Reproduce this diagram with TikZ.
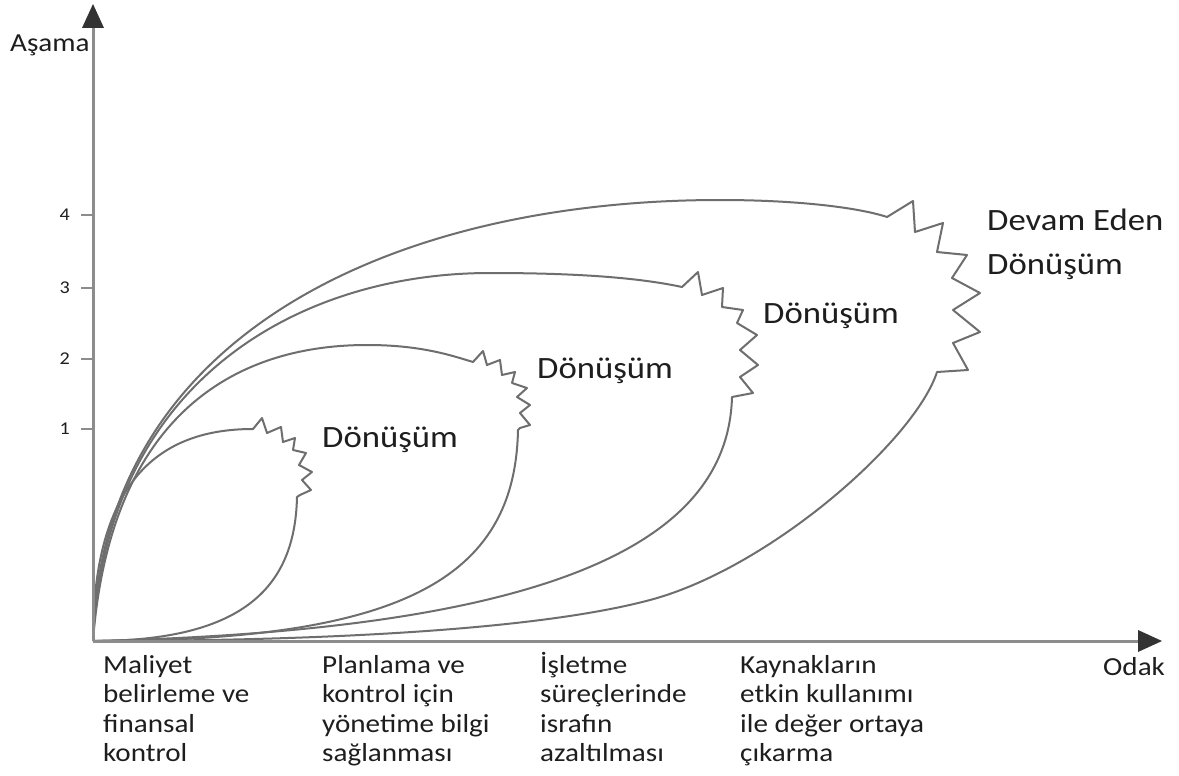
\documentclass[tikz,border=0pt]{standalone}
\usepackage{fontspec}
\setmainfont{Carlito}[FakeStretch=1.12]
\definecolor{curvegray}{HTML}{6E6E6E}
\definecolor{axisgray}{HTML}{8C8C8C}
\definecolor{txt}{HTML}{1E1E1E}
\definecolor{arrowc}{HTML}{333333}
\begin{document}
\begin{tikzpicture}[x=1pt,y=-1pt,
  curve/.style={draw=curvegray, line width=2pt, line join=round},
  axis/.style={draw=axisgray, line width=3pt},
  lbl/.style={anchor=north west, align=left, inner sep=0pt, font=\fontsize{26}{29.5}\selectfont, text=txt},
  big/.style={anchor=base west, inner sep=0pt, font=\fontsize{31}{44}\selectfont, text=txt},
  small/.style={anchor=base west, inner sep=0pt, font=\fontsize{26}{30}\selectfont, text=txt},
  num/.style={anchor=east, inner sep=0pt, font=\fontsize{18}{20}\selectfont, text=txt}]
\useasboundingbox (0,0) rectangle (1179,776);
\fill[white] (0,0) rectangle (1179,776);
\coordinate (O) at (93,641);
\coordinate (ytop) at (93,26);
\coordinate (xend) at (1140,641);
% curves
\draw[curve] (O) .. controls (93,480) and (160,429) .. (253,429)
  -- (262,418) -- (267,433) -- (281,427) -- (283,442) -- (295,438) -- (293,450)
  -- (306,453) -- (299,465) -- (312,472) -- (302,480) -- (311,490) -- (300,495)
  -- (297,497) .. controls (295,590) and (240,641) .. (O);
\draw[curve] (O) .. controls (110,420) and (230,345) .. (367,345)
  .. controls (420,345) and (450,355) .. (473,362)
  -- (483,351) -- (487,365) -- (500,360) -- (502,375) -- (515,372) -- (512,383)
  -- (527,388) -- (517,397) -- (530,405) -- (520,413) -- (530,425) -- (520,428)
  -- (518,430) .. controls (515,580) and (400,641) .. (O);
\draw[curve] (O) .. controls (105,380) and (300,273) .. (490,273)
  .. controls (580,273) and (640,278) .. (682,287)
  -- (698,272) -- (702,295) -- (723,288) -- (722,307) -- (743,310) -- (737,323)
  -- (757,335) -- (740,350) -- (758,365) -- (740,377) -- (753,393) -- (732,397)
  .. controls (728,540) and (560,630) .. (O);
\draw[curve] (O) .. controls (100,330) and (400,200) .. (720,200)
  .. controls (800,200) and (860,208) .. (887,217)
  -- (913,201) -- (915,232) -- (943,223) -- (937,252) -- (967,255) -- (952,278)
  -- (980,293) -- (953,310) -- (980,332) -- (953,343) -- (968,370) -- (937,372)
  .. controls (915,440) and (770,568) .. (650,600)
  .. controls (530,632) and (300,641) .. (O);
% axes
\draw[axis] (O) -- (ytop);
\draw[axis] (O) -- (xend);
\fill[arrowc] (93,4) -- (82,28) -- (104,28) -- cycle;
\fill[arrowc] (1162,641) -- (1138,630) -- (1138,652) -- cycle;
% ticks
\foreach \y/\l in {215/4,288/3,359/2,429/1}{
  \draw[draw=axisgray, line width=2pt] (81,\y) -- (93,\y);
  \node[num] (t\l) at (70,\y) {\l};
}
% axis labels
\node[small] (asama) at (10,52) {Aşama};
\node[small] (odak) at (1103,675) {Odak};
% transformation labels
\node[big] (d1) at (322,447) {Dönüşüm};
\node[big] (d2) at (537,378) {Dönüşüm};
\node[big] (d3) at (763,323) {Dönüşüm};
\node[big] (d4a) at (987,230) {Devam Eden};
\node[big] (d4b) at (987,274) {Dönüşüm};
% bottom labels
\node[lbl] (l1) at (103,651) {\rule{0pt}{22pt}Maliyet\\belirleme ve\\finansal\\kontrol};
\node[lbl] (l2) at (322,651) {\rule{0pt}{22pt}Planlama ve\\kontrol için\\yönetime bilgi\\sağlanması};
\node[lbl] (l3) at (540,651) {\rule{0pt}{22pt}İşletme\\süreçlerinde\\israfın\\azaltılması};
\node[lbl] (l4) at (740,651) {\rule{0pt}{22pt}Kaynakların\\etkin kullanımı\\ile değer ortaya\\çıkarma};
\end{tikzpicture}
\end{document}
